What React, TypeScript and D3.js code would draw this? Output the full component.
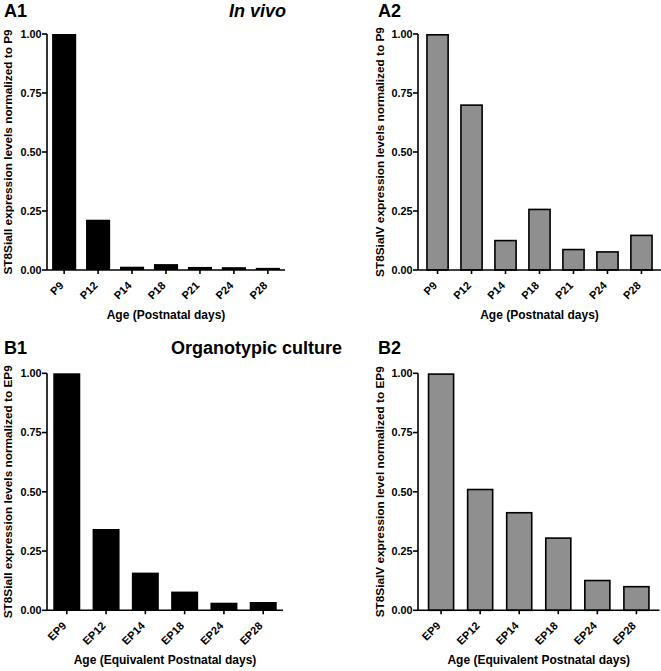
import React from "react";
import * as d3 from "d3";

const agesInVivo = ["P9", "P12", "P14", "P18", "P21", "P24", "P28"];
const a1Values = [1.0, 0.213, 0.014, 0.025, 0.013, 0.012, 0.009];
const a2Values = [1.0, 0.702, 0.128, 0.26, 0.09, 0.08, 0.15];

const agesCulture = ["EP9", "EP12", "EP14", "EP18", "EP24", "EP28"];
const b1Values = [1.0, 0.343, 0.159, 0.079, 0.032, 0.035];
const b2Values = [1.0, 0.513, 0.415, 0.308, 0.129, 0.103];

const yTickValues = [0, 0.25, 0.5, 0.75, 1.0];

const FONT = "'Liberation Sans', Arial, Helvetica, sans-serif";

type PanelProps = {
  cats: string[];
  values: number[];
  x0: number;
  x1: number;
  yTop: number;
  yBottom: number;
  padIn: number;
  padOut: number;
  fill: string;
  strokeW: number;
  yLabel: string;
  yLabelX: number;
  xLabel: string;
  xLabelY: number;
};

function Panel(p: PanelProps) {
  const x = d3
    .scaleBand<string>()
    .domain(p.cats)
    .range([p.x0, p.x1])
    .paddingInner(p.padIn)
    .paddingOuter(p.padOut);
  const y = d3.scaleLinear().domain([0, 1]).range([p.yBottom, p.yTop]);
  const bw = x.bandwidth();
  const yMid = (p.yTop + p.yBottom) / 2;
  const xMid = (p.x0 + p.x1) / 2;
  return (
    <g>
      {p.cats.map((c, i) => {
        const bx = x(c)!;
        const top = y(p.values[i]);
        const h = y(0) - top;
        return (
          <rect
            key={c}
            x={bx + p.strokeW / 2}
            y={top + p.strokeW / 2}
            width={bw - p.strokeW}
            height={Math.max(0, h - p.strokeW / 2)}
            fill={p.fill}
            stroke="#000"
            strokeWidth={p.strokeW}
          />
        );
      })}
      {/* y axis */}
      <line x1={p.x0} x2={p.x0} y1={p.yTop} y2={p.yBottom} stroke="#000" strokeWidth={1.6} />
      {yTickValues.map((t) => (
        <g key={t}>
          <line x1={p.x0 - 5} x2={p.x0} y1={y(t)} y2={y(t)} stroke="#000" strokeWidth={1.6} />
          <text
            x={p.x0 - 5.5}
            y={y(t)}
            dy="0.35em"
            textAnchor="end"
            fontFamily={FONT}
            fontWeight="bold"
            fontSize={10.8}
          >
            {d3.format(".2f")(t)}
          </text>
        </g>
      ))}
      {/* x axis */}
      <line x1={p.x0} x2={p.x1} y1={p.yBottom} y2={p.yBottom} stroke="#000" strokeWidth={1.6} />
      {p.cats.map((c) => {
        const cx = x(c)! + bw / 2;
        return (
          <g key={c}>
            <line x1={cx} x2={cx} y1={p.yBottom} y2={p.yBottom + 4} stroke="#000" strokeWidth={1.6} />
            <text
              transform={`translate(${cx - 2.5},${p.yBottom + 13.5}) rotate(-45)`}
              dy="0.35em"
              textAnchor="end"
              fontFamily={FONT}
              fontWeight="bold"
              fontSize={11}
            >
              {c}
            </text>
          </g>
        );
      })}
      <text
        transform={`translate(${p.yLabelX},${yMid}) rotate(-90)`}
        textAnchor="middle"
        fontFamily={FONT}
        fontWeight="bold"
        fontSize={11.8}
      >
        {p.yLabel}
      </text>
      <text
        x={xMid}
        y={p.xLabelY}
        textAnchor="middle"
        fontFamily={FONT}
        fontWeight="bold"
        fontSize={12}
      >
        {p.xLabel}
      </text>
    </g>
  );
}

export default function App() {
  const titleStyle = { fontFamily: FONT, fontWeight: "bold" as const, fontSize: 18 };
  return (
    <svg
      width={661}
      height={671}
      style={{ position: "absolute", left: 0, top: 0, background: "#fff" }}
    >
      <rect x={0} y={0} width={661} height={671} fill="#fff" />
      <text x={4} y={17} {...titleStyle}>A1</text>
      <text x={286} y={17} textAnchor="end" fontStyle="italic" {...titleStyle}>In vivo</text>
      <text x={378} y={17} {...titleStyle}>A2</text>
      <text x={4} y={354} {...titleStyle}>B1</text>
      <text x={171} y={354} {...titleStyle}>Organotypic culture</text>
      <text x={378} y={354} {...titleStyle}>B2</text>

      <Panel
        cats={agesInVivo}
        values={a1Values}
        x0={47}
        x1={285}
        yTop={34}
        yBottom={270}
        padIn={0.29}
        padOut={0.15}
        fill="#000"
        strokeW={0}
        yLabel="ST8SiaII expression levels normalized to P9"
        yLabelX={12}
        xLabel="Age (Postnatal days)"
        xLabelY={319}
      />
      <Panel
        cats={agesInVivo}
        values={a2Values}
        x0={418}
        x1={661}
        yTop={34}
        yBottom={270}
        padIn={0.33}
        padOut={0.24}
        fill="#8f8f8f"
        strokeW={1.6}
        yLabel="ST8SiaIV expression levels normalized to P9"
        yLabelX={384}
        xLabel="Age (Postnatal days)"
        xLabelY={319}
      />
      <Panel
        cats={agesCulture}
        values={b1Values}
        x0={47}
        x1={283}
        yTop={373.3}
        yBottom={610.3}
        padIn={0.313}
        padOut={0.16}
        fill="#000"
        strokeW={0}
        yLabel="ST8SiaII expression levels normalized to EP9"
        yLabelX={12}
        xLabel="Age (Equivalent Postnatal days)"
        xLabelY={664}
      />
      <Panel
        cats={agesCulture}
        values={b2Values}
        x0={418}
        x1={659.5}
        yTop={373.3}
        yBottom={610.3}
        padIn={0.318}
        padOut={0.25}
        fill="#8f8f8f"
        strokeW={1.6}
        yLabel="ST8SiaIV expression level normalized to EP9"
        yLabelX={384}
        xLabel="Age (Equivalent Postnatal days)"
        xLabelY={664}
      />
    </svg>
  );
}
